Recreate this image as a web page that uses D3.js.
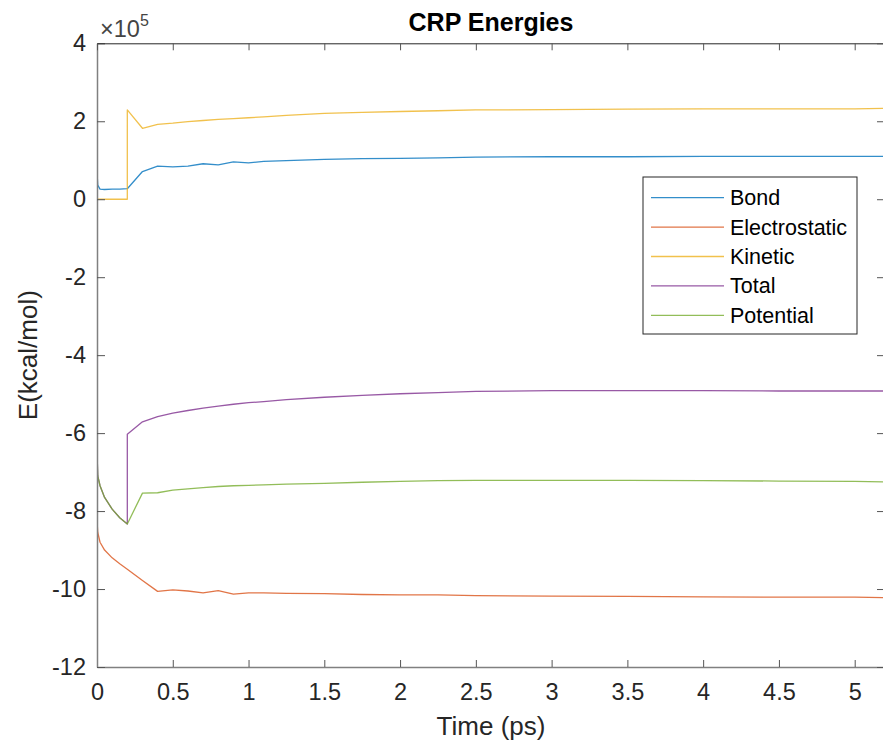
<!DOCTYPE html>
<html>
<head>
<meta charset="utf-8">
<script src="https://cdn.jsdelivr.net/npm/d3@7"></script>
<style>
  body { margin: 0; background: #fff; }
  text { font-family: "Liberation Sans", Arial, sans-serif; }
</style>
</head>
<body>
<script>
"use-strict";

// time in ps, energies in units of 1e5 kcal/mol
let times = [0, 0.005, 0.02, 0.05, 0.1, 0.15, 0.2, 0.2, 0.3, 0.4, 0.5, 0.6, 0.7, 0.8, 0.9, 1.0, 1.1, 1.25, 1.5, 1.75, 2.0, 2.25, 2.5, 3.0, 3.5, 4.0, 4.5, 5.0, 5.2];
let bond = [0.71, 0.36, 0.26, 0.25, 0.26, 0.26, 0.27, 0.27, 0.71, 0.85, 0.83, 0.85, 0.91, 0.88, 0.96, 0.93, 0.97, 0.99, 1.02, 1.04, 1.05, 1.06, 1.08, 1.09, 1.09, 1.10, 1.10, 1.10, 1.10];
let electrostatic = [-8.25, -8.55, -8.8, -9.0, -9.2, -9.35, -9.49, -9.49, -9.78, -10.06, -10.02, -10.05, -10.1, -10.04, -10.13, -10.1, -10.1, -10.11, -10.12, -10.14, -10.15, -10.15, -10.17, -10.18, -10.19, -10.2, -10.21, -10.21, -10.22];
let kinetic = [0, 0, 0, 0, 0, 0, 0, 2.29, 1.82, 1.92, 1.95, 1.99, 2.02, 2.05, 2.07, 2.09, 2.11, 2.15, 2.2, 2.23, 2.25, 2.27, 2.29, 2.3, 2.31, 2.32, 2.32, 2.32, 2.33];
let total = [-6.5, -7.1, -7.35, -7.65, -7.95, -8.17, -8.33, -6.03, -5.71, -5.58, -5.49, -5.42, -5.36, -5.31, -5.26, -5.22, -5.19, -5.14, -5.08, -5.03, -4.99, -4.96, -4.93, -4.91, -4.91, -4.91, -4.92, -4.92, -4.92];
let potential = [-6.5, -7.1, -7.35, -7.65, -7.95, -8.17, -8.33, -8.33, -7.54, -7.53, -7.46, -7.43, -7.4, -7.37, -7.35, -7.34, -7.33, -7.31, -7.29, -7.26, -7.24, -7.22, -7.21, -7.21, -7.21, -7.22, -7.23, -7.24, -7.25];

let seriesNames = ["Bond", "Electrostatic", "Kinetic", "Total", "Potential"];
let seriesValues = [bond, electrostatic, kinetic, total, potential];
let colors = ["#0072BD", "#D95319", "#EDB120", "#7E2F8E", "#77AC30"];

let xTicks = [0, 0.5, 1, 1.5, 2, 2.5, 3, 3.5, 4, 4.5, 5];
let yTicks = [-12, -10, -8, -6, -4, -2, 0, 2, 4];

let width = 883;
let height = 749;
let plotLeft = 97, plotRight = 885, plotTop = 43.3, plotBottom = 667;
let tickFont = "23.5px";

let svg = d3.select("body").append("svg").attr("width", width).attr("height", height);

let x = d3.scaleLinear().domain([0, 5.2]).range([plotLeft, plotRight]);
let y = d3.scaleLinear().domain([-12, 4]).range([plotBottom, plotTop]);

let defs = svg.append("defs");
defs.append("clipPath").attr("id", "plot")
  .append("rect").attr("x", plotLeft).attr("y", plotTop)
  .attr("width", plotRight - plotLeft).attr("height", plotBottom - plotTop);

let line = d3.line()
  .x((d, i) => x(times[i]))
  .y(d => y(d));

let lines = svg.append("g").attr("clip-path", "url(#plot)");
lines.selectAll("path")
  .data(seriesValues)
  .enter()
  .append("path")
  .attr("fill", "none")
  .attr("stroke", (d, i) => colors[i])
  .attr("stroke-width", 1.3)
  .attr("stroke-opacity", 0.8)
  .attr("stroke-linejoin", "round")
  .attr("d", line);

// axes, MATLAB style with inward ticks
let fmt = d => String(d);

let xAxis = svg.append("g")
  .attr("transform", "translate(0," + plotBottom + ")")
  .call(d3.axisBottom(x).tickValues(xTicks).tickFormat(fmt).tickSizeInner(-7).tickSizeOuter(0).tickPadding(16));

let yAxis = svg.append("g")
  .attr("transform", "translate(" + plotLeft + ",0)")
  .call(d3.axisLeft(y).tickValues(yTicks).tickFormat(fmt).tickSizeInner(-8).tickSizeOuter(0).tickPadding(11));

let topAxis = svg.append("g")
  .attr("transform", "translate(0," + plotTop + ")")
  .call(d3.axisTop(x).tickValues(xTicks).tickFormat("").tickSizeInner(-7).tickSizeOuter(0));

let rightAxis = svg.append("g")
  .attr("transform", "translate(" + plotRight + ",0)")
  .call(d3.axisRight(y).tickValues(yTicks).tickFormat("").tickSizeInner(-8).tickSizeOuter(0));

[xAxis, yAxis].forEach(a => {
  a.select(".domain").attr("stroke", "#808080").attr("stroke-width", 1.5);
  a.selectAll(".tick line").attr("stroke", "#555");
  a.selectAll(".tick text")
    .attr("fill", "#262626")
    .style("font-size", tickFont)
    .style("font-family", "'Liberation Sans', Arial, sans-serif");
});
[topAxis, rightAxis].forEach(a => {
  a.select(".domain").attr("stroke", "#262626");
  a.selectAll(".tick line").attr("stroke", "#555");
});

// exponent label
let expo = svg.append("text")
  .attr("x", 100)
  .attr("y", 37)
  .attr("fill", "#444")
  .style("font-size", tickFont);
expo.append("tspan").text("\u00d710");
expo.append("tspan").attr("dy", -11).style("font-size", "16px").text("5");

// title
svg.append("text")
  .attr("x", (plotLeft + plotRight) / 2)
  .attr("y", 31)
  .attr("text-anchor", "middle")
  .attr("fill", "#000")
  .style("font-size", "25px")
  .style("font-weight", "bold")
  .text("CRP Energies");

// axis labels
svg.append("text")
  .attr("x", (plotLeft + plotRight) / 2)
  .attr("y", 735)
  .attr("text-anchor", "middle")
  .attr("fill", "#262626")
  .style("font-size", "26px")
  .text("Time (ps)");

svg.append("text")
  .attr("transform", "translate(37," + ((plotTop + plotBottom) / 2) + ") rotate(-90)")
  .attr("text-anchor", "middle")
  .attr("fill", "#262626")
  .style("font-size", "26px")
  .text("E(kcal/mol)");

// legend
let legend = svg.append("g").attr("transform", "translate(643,177)");
legend.append("rect")
  .attr("width", 214)
  .attr("height", 157)
  .attr("fill", "#fff")
  .attr("stroke", "#262626")
  .attr("stroke-width", 1);

let items = legend.selectAll(".item")
  .data(seriesNames)
  .enter()
  .append("g")
  .attr("class", "item")
  .attr("transform", (d, i) => "translate(0," + (20.7 + i * 29.4) + ")");

items.append("line")
  .attr("x1", 8).attr("x2", 81)
  .attr("stroke", (d, i) => colors[i])
  .attr("stroke-opacity", 0.8)
  .attr("stroke-width", 1.3);

items.append("text")
  .attr("x", 87)
  .attr("dy", "0.35em")
  .attr("fill", "#000")
  .style("font-size", "21.5px")
  .text(d => d);
</script>
</body>
</html>
